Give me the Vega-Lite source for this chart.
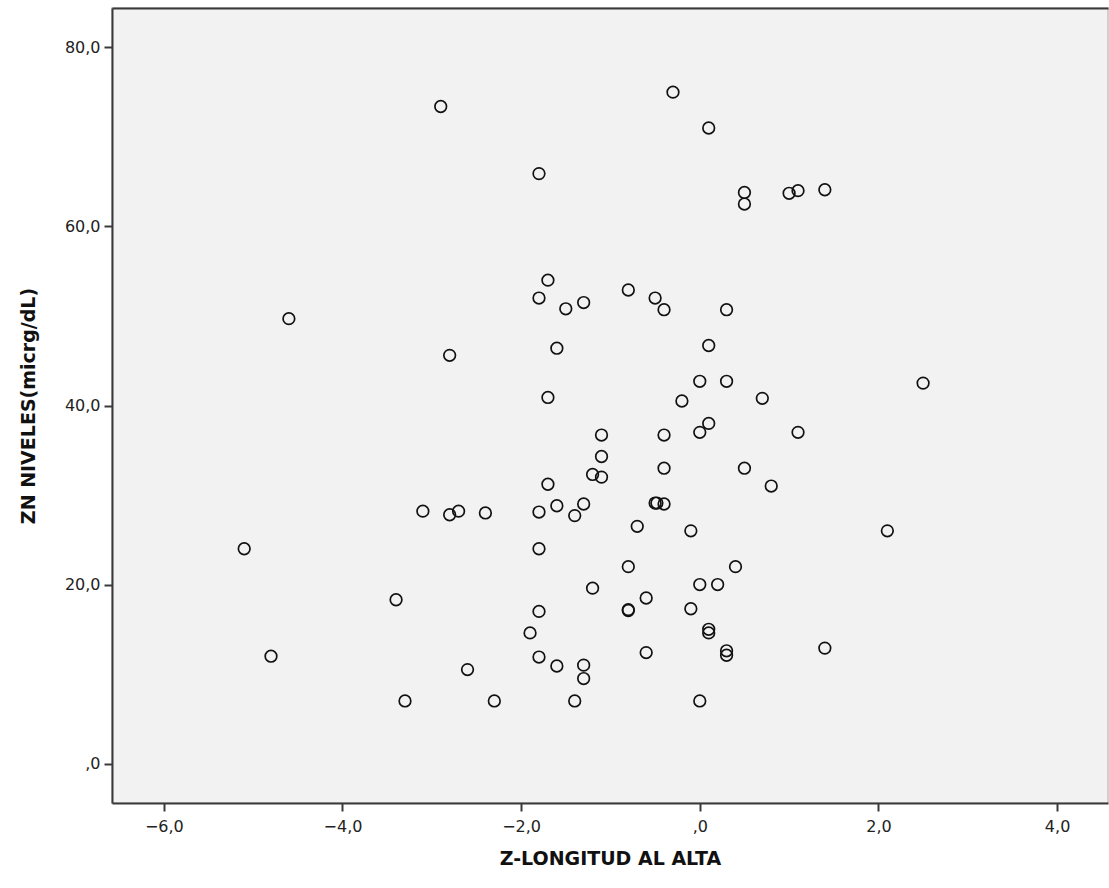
{
  "$schema": "https://vega.github.io/schema/vega-lite/v6.json",
  "width": 996,
  "height": 795,
  "autosize": {"type": "none"},
  "padding": {"left": 112, "top": 8, "right": 1, "bottom": 85},
  "background": "#ffffff",
  "config": {
    "view": {"fill": "#f2f2f2", "stroke": "#c4c4c4", "strokeWidth": 1.5},
    "axis": {
      "grid": false,
      "domainColor": "#3a3a3a",
      "domainWidth": 2,
      "tickColor": "#3a3a3a",
      "tickWidth": 2,
      "tickSize": 8,
      "labelFont": "DejaVu Sans",
      "labelFontSize": 16,
      "labelColor": "#222222",
      "titleFont": "DejaVu Sans",
      "titleFontWeight": "bold",
      "titleFontSize": 19,
      "titleColor": "#111111"
    }
  },
  "data": {
    "values": [
      {"z": -2.9, "zn": 73.4}, {"z": -0.3, "zn": 75.0}, {"z": 0.1, "zn": 71.0}, {"z": -1.8, "zn": 65.9},
      {"z": 0.5, "zn": 63.8}, {"z": 0.5, "zn": 62.5}, {"z": 1.0, "zn": 63.7}, {"z": 1.1, "zn": 64.0},
      {"z": 1.4, "zn": 64.1}, {"z": -4.6, "zn": 49.7}, {"z": -1.7, "zn": 54.0}, {"z": -1.8, "zn": 52.0},
      {"z": -1.5, "zn": 50.8}, {"z": -1.3, "zn": 51.5}, {"z": -0.8, "zn": 52.9}, {"z": -0.5, "zn": 52.0},
      {"z": -0.4, "zn": 50.7}, {"z": 0.3, "zn": 50.7}, {"z": -2.8, "zn": 45.6}, {"z": -1.6, "zn": 46.4},
      {"z": 0.1, "zn": 46.7}, {"z": -1.7, "zn": 40.9}, {"z": -0.2, "zn": 40.5}, {"z": 0.0, "zn": 42.7},
      {"z": 0.3, "zn": 42.7}, {"z": 0.7, "zn": 40.8}, {"z": 2.5, "zn": 42.5}, {"z": -1.1, "zn": 36.7},
      {"z": -0.4, "zn": 36.7}, {"z": 0.0, "zn": 37.0}, {"z": 0.1, "zn": 38.0}, {"z": 1.1, "zn": 37.0},
      {"z": -1.1, "zn": 34.3}, {"z": -1.2, "zn": 32.3}, {"z": -1.1, "zn": 32.0}, {"z": -0.4, "zn": 33.0},
      {"z": 0.5, "zn": 33.0}, {"z": -1.7, "zn": 31.2}, {"z": 0.8, "zn": 31.0}, {"z": -3.1, "zn": 28.2},
      {"z": -2.8, "zn": 27.8}, {"z": -2.7, "zn": 28.2}, {"z": -2.4, "zn": 28.0}, {"z": -1.8, "zn": 28.1},
      {"z": -1.6, "zn": 28.8}, {"z": -1.4, "zn": 27.7}, {"z": -1.3, "zn": 29.0}, {"z": -0.5, "zn": 29.1},
      {"z": -0.48, "zn": 29.1}, {"z": -0.4, "zn": 29.0}, {"z": -0.7, "zn": 26.5}, {"z": -0.1, "zn": 26.0},
      {"z": 2.1, "zn": 26.0}, {"z": -5.1, "zn": 24.0}, {"z": -1.8, "zn": 24.0}, {"z": -0.8, "zn": 22.0},
      {"z": 0.4, "zn": 22.0}, {"z": 0.0, "zn": 20.0}, {"z": 0.2, "zn": 20.0}, {"z": -3.4, "zn": 18.3},
      {"z": -1.2, "zn": 19.6}, {"z": -0.6, "zn": 18.5}, {"z": -1.8, "zn": 17.0}, {"z": -0.8, "zn": 17.1},
      {"z": -0.8, "zn": 17.2}, {"z": -0.1, "zn": 17.3}, {"z": -1.9, "zn": 14.6}, {"z": 0.1, "zn": 15.0},
      {"z": 0.1, "zn": 14.6}, {"z": -4.8, "zn": 12.0}, {"z": -1.8, "zn": 11.9}, {"z": -0.6, "zn": 12.4},
      {"z": 0.3, "zn": 12.6}, {"z": 0.3, "zn": 12.1}, {"z": 1.4, "zn": 12.9}, {"z": -2.6, "zn": 10.5},
      {"z": -1.6, "zn": 10.9}, {"z": -1.3, "zn": 11.0}, {"z": -1.3, "zn": 9.5}, {"z": -3.3, "zn": 7.0},
      {"z": -2.3, "zn": 7.0}, {"z": -1.4, "zn": 7.0}, {"z": 0.0, "zn": 7.0}
    ]
  },
  "layer": [
    {
      "mark": {"type": "point", "shape": "circle", "filled": false, "stroke": "#111111", "strokeWidth": 1.7, "size": 135, "opacity": 1},
      "encoding": {
        "x": {
          "field": "z",
          "type": "quantitative",
          "title": "Z-LONGITUD AL ALTA",
          "scale": {"domain": [-6.58, 4.57], "nice": false, "zero": false},
          "axis": {
            "orient": "bottom",
            "values": [-6, -4, -2, 0, 2, 4],
            "labelExpr": "datum.value == 0 ? ',0' : replace(format(datum.value, '.1f'), '.', ',')",
            "labelPadding": 7,
            "titlePadding": 15
          }
        },
        "y": {
          "field": "zn",
          "type": "quantitative",
          "title": "ZN NIVELES(micrg/dL)",
          "scale": {"domain": [-4.4, 84.4], "nice": false, "zero": false},
          "axis": {
            "values": [0, 20, 40, 60, 80],
            "labelExpr": "datum.value == 0 ? ',0' : replace(format(datum.value, '.1f'), '.', ',')",
            "labelPadding": 4,
            "titlePadding": 26
          }
        }
      }
    },
    {
      "mark": {"type": "point", "opacity": 0},
      "encoding": {
        "x": {
          "field": "z",
          "type": "quantitative",
          "axis": {"orient": "top", "title": null, "labels": false, "ticks": false, "domain": true}
        },
        "y": {"field": "zn", "type": "quantitative"}
      }
    }
  ],
  "resolve": {"axis": {"x": "independent"}}
}
